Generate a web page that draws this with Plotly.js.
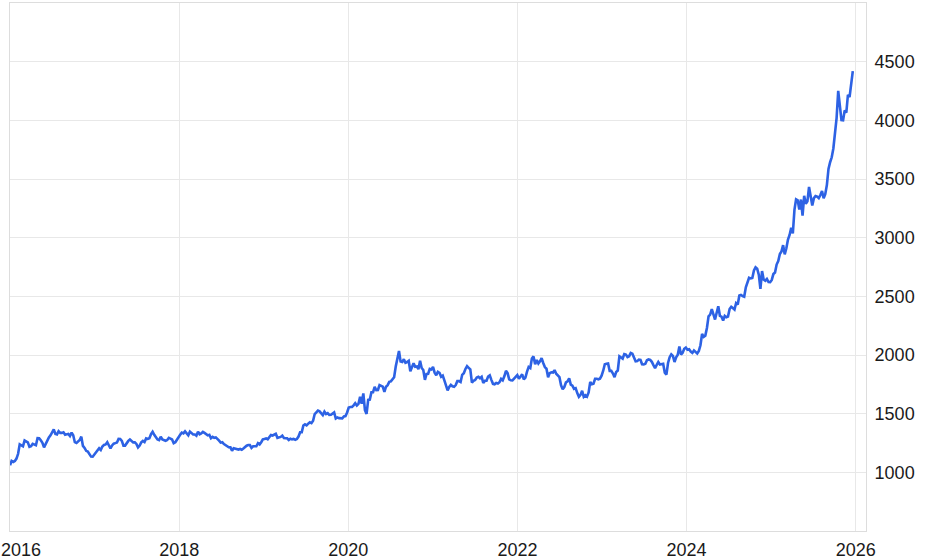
<!DOCTYPE html>
<html>
<head>
<meta charset="utf-8">
<script src="https://cdn.plot.ly/plotly-3.0.1.min.js"></script>
<style>html,body{margin:0;padding:0;background:#fff;}#chart{width:940px;height:560px;}</style>
</head>
<body>
<div id="chart"></div>
<script>
// Weekly closing values (USD), first week = 2016-01-01, one value per week
const firstWeek = "2016-01-01";
const p2016 = [1061,1097,1089,1097,1117,1158,1239,1231,1222,1271,1259,1255,1217,1222,1243,1235,1231,1291,1290,1273,1252,1213,1243,1275,1298,1316,1340,1366,1327,1323,1351,1336,1336,1341,1321,1327,1328,1310,1339,1316,1257,1251,1267,1275,1304,1225,1208,1183,1177,1159,1134,1133,1152];
const p2017 = [1173,1196,1205,1191,1220,1234,1238,1257,1234,1203,1229,1244,1249,1254,1285,1284,1268,1228,1228,1254,1268,1280,1266,1255,1256,1242,1212,1228,1255,1268,1258,1289,1285,1291,1325,1346,1320,1297,1280,1275,1303,1280,1271,1269,1275,1294,1287,1280,1248,1256,1278,1303];
const p2018 = [1320,1338,1332,1349,1333,1316,1347,1330,1323,1323,1313,1347,1325,1332,1345,1336,1323,1315,1320,1291,1302,1294,1298,1279,1270,1253,1256,1241,1231,1223,1214,1213,1184,1206,1201,1198,1194,1199,1192,1203,1218,1227,1233,1233,1209,1222,1222,1222,1248,1238,1257,1281];
const p2019 = [1285,1289,1282,1303,1318,1314,1322,1328,1294,1298,1302,1313,1292,1291,1290,1275,1286,1281,1285,1277,1284,1305,1341,1341,1399,1409,1400,1415,1426,1419,1440,1497,1513,1527,1520,1507,1488,1517,1497,1505,1489,1490,1505,1511,1459,1468,1462,1464,1460,1476,1479,1510];
const p2020 = [1552,1557,1557,1571,1589,1570,1584,1643,1585,1673,1530,1498,1617,1620,1683,1683,1728,1700,1702,1743,1735,1730,1685,1730,1743,1771,1775,1798,1810,1902,1975,2035,1944,1940,1964,1934,1940,1950,1862,1900,1930,1899,1902,1879,1951,1889,1872,1788,1839,1840,1881,1877];
const p2021 = [1898,1849,1828,1856,1848,1814,1824,1784,1734,1698,1727,1745,1733,1729,1744,1777,1777,1769,1831,1844,1881,1905,1891,1877,1764,1781,1787,1808,1815,1802,1814,1763,1780,1781,1817,1827,1788,1754,1750,1761,1757,1768,1796,1784,1818,1865,1846,1792,1784,1783,1798,1811,1829];
const p2022 = [1797,1818,1835,1792,1808,1859,1898,1889,1970,1988,1921,1958,1928,1947,1974,1932,1897,1883,1811,1846,1853,1851,1871,1840,1827,1811,1742,1708,1727,1766,1775,1802,1747,1738,1712,1717,1675,1644,1660,1695,1644,1657,1645,1681,1771,1751,1755,1797,1797,1793,1798,1824];
const p2023 = [1866,1921,1926,1928,1865,1865,1842,1811,1856,1868,1989,1978,1969,2008,2004,1983,1990,2017,2011,1978,1946,1948,1961,1958,1921,1919,1925,1955,1962,1959,1942,1914,1889,1915,1940,1919,1924,1925,1849,1833,1932,1981,2006,1992,1940,1981,2002,2072,2004,2019,2053,2063];
const p2024 = [2045,2049,2029,2018,2039,2024,2013,2035,2083,2179,2155,2165,2230,2329,2344,2392,2338,2302,2360,2415,2334,2327,2294,2333,2322,2327,2392,2411,2400,2387,2443,2431,2507,2512,2503,2497,2577,2621,2658,2653,2657,2721,2747,2736,2685,2563,2715,2643,2633,2648,2622,2621];
const p2025 = [2640,2690,2703,2771,2800,2861,2883,2936,2858,2910,2984,3023,3085,3037,3237,3327,3319,3240,3325,3187,3357,3289,3310,3432,3368,3274,3337,3355,3350,3337,3363,3397,3336,3371,3448,3586,3643,3685,3760,3886,4018,4251,4113,4002,4000,4085,4065,4218,4198,4300,4420];

// First tick label ("2016") sits at the plot's left edge; it is drawn as an
// annotation pushed inside the page so that it is not clipped.
const firstTickLabel = "2016";
const xTickVals = ["2016-01-01","2018-01-01","2020-01-01","2022-01-01","2024-01-01","2026-01-01"];
const xTickText = ["","2018","2020","2022","2024","2026"];
const yTickVals = [1000,1500,2000,2500,3000,3500,4000,4500];
const yTickText = ["1000","1500","2000","2500","3000","3500","4000","4500"];

const prices = [].concat(p2016,p2017,p2018,p2019,p2020,p2021,p2022,p2023,p2024,p2025);
const t0 = Date.parse(firstWeek + "T00:00:00Z");
const dates = prices.map((_, i) => new Date(t0 + i * 7 * 86400000).toISOString().slice(0,10));

const trace = {
  x: dates, y: prices, type: "scatter", mode: "lines",
  line: {color: "#2d62e4", width: 2.6}, hoverinfo: "x+y"
};

const grid = "#e8e8e8";
const font = {family: "Liberation Sans, Arial, sans-serif", size: 18, color: "#1a1a1a"};
const layout = {
  width: 940, height: 560,
  margin: {l: 10, r: 74, t: 3, b: 29, pad: 0},
  paper_bgcolor: "#ffffff", plot_bgcolor: "#ffffff",
  showlegend: false,
  font: font,
  xaxis: {
    type: "date", range: ["2016-01-01", "2026-02-14"],
    tickmode: "array", tickvals: xTickVals, ticktext: xTickText,
    showgrid: true, gridcolor: grid, gridwidth: 1,
    showline: true, linecolor: "#dddddd", linewidth: 1, mirror: true,
    ticks: "", ticklabelstandoff: 2, zeroline: false, fixedrange: true
  },
  yaxis: {
    side: "right", range: [500, 5000],
    tickmode: "array", tickvals: yTickVals, ticktext: yTickText,
    showgrid: true, gridcolor: grid, gridwidth: 1,
    showline: true, linecolor: "#dddddd", linewidth: 1, mirror: true,
    ticks: "", ticklabelstandoff: 4, zeroline: false, fixedrange: true
  },
  annotations: [{
    text: firstTickLabel, xref: "paper", yref: "paper", x: 0, y: 0,
    xanchor: "left", yanchor: "middle", xshift: -10, yshift: -19,
    showarrow: false, font: font, borderpad: 0
  }]
};

Plotly.newPlot("chart", [trace], layout, {staticPlot: true, displayModeBar: false});
</script>
</body>
</html>
